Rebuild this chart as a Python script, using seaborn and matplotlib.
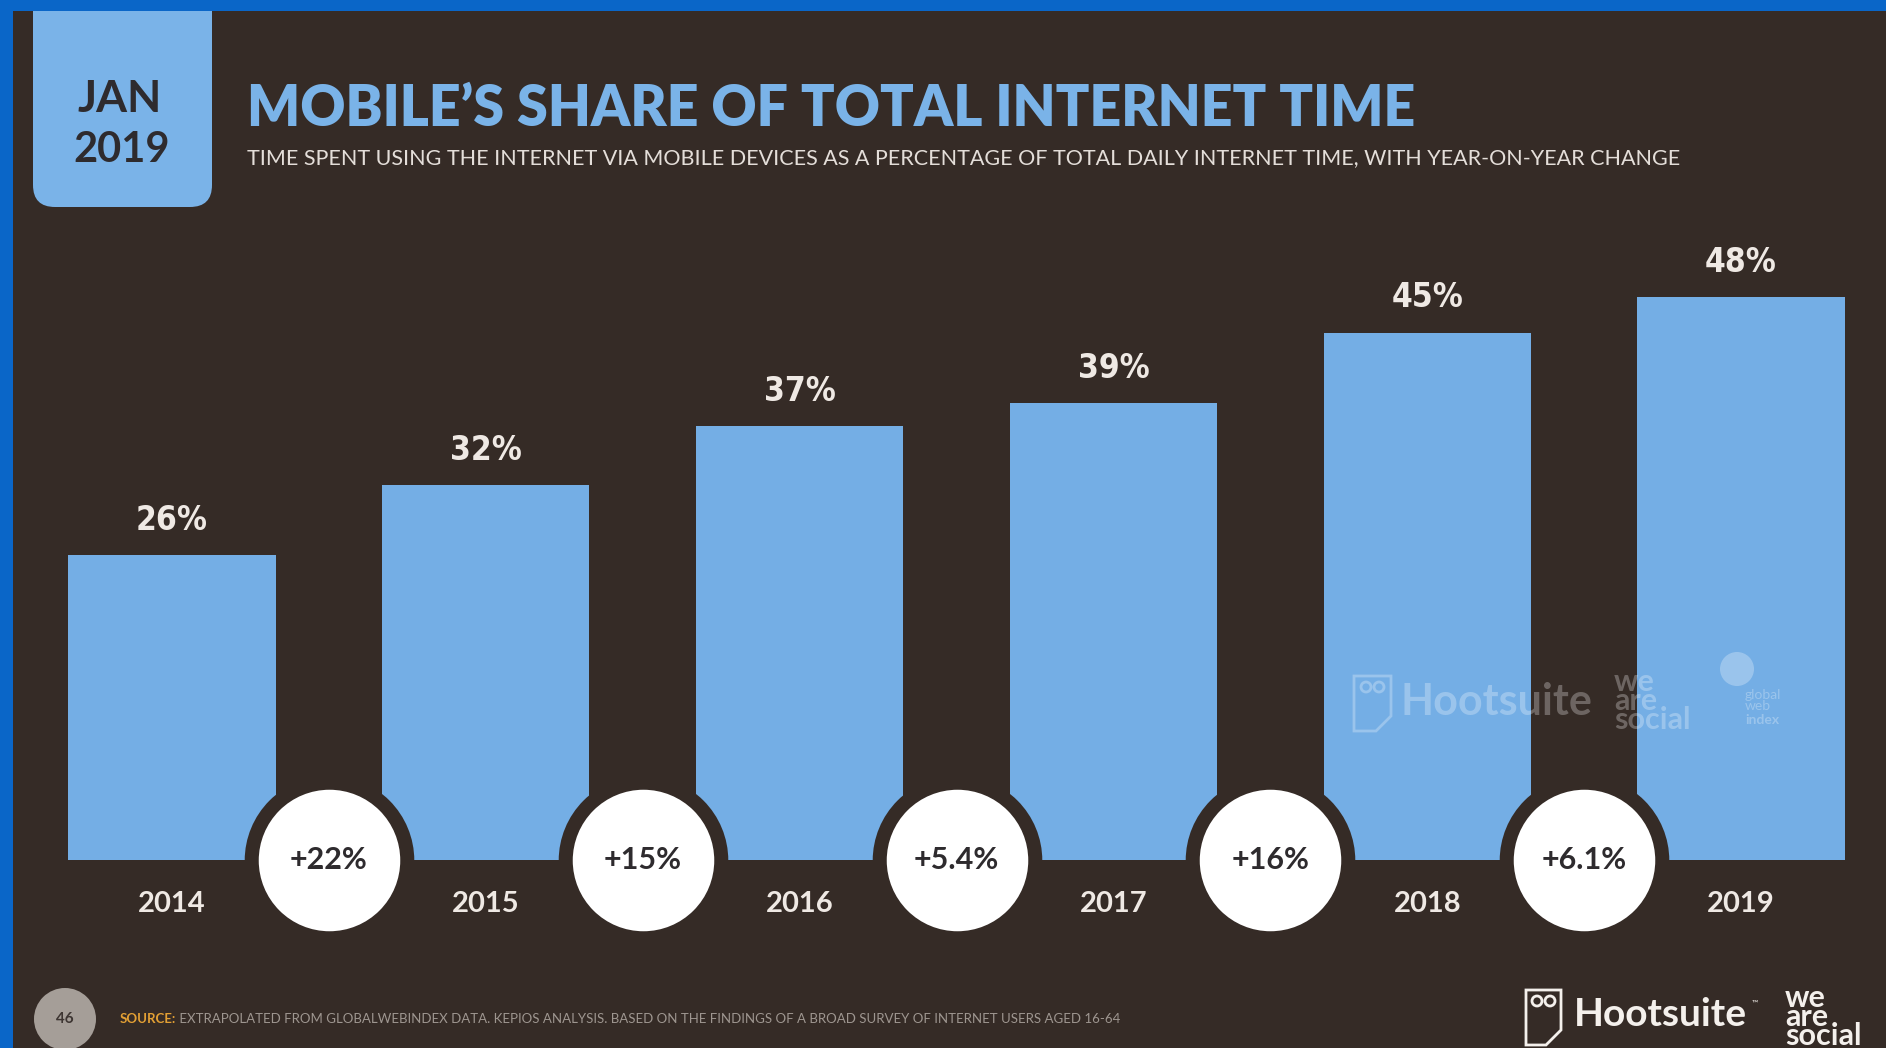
import matplotlib
matplotlib.use("Agg")
import matplotlib.pyplot as plt
import seaborn as sns
import pandas as pd
from matplotlib import font_manager
from matplotlib.font_manager import FontProperties
from matplotlib.patches import FancyBboxPatch, Rectangle, Circle, Polygon

# ---------------- data ----------------
years = ["2014", "2015", "2016", "2017", "2018", "2019"]
share = [26, 32, 37, 39, 45, 48]
value_labels = ["26%", "32%", "37%", "39%", "45%", "48%"]
change_labels = ["+22%", "+15%", "+5.4%", "+16%", "+6.1%"]

title = "MOBILE\u2019S SHARE OF TOTAL INTERNET TIME"
subtitle = ("TIME SPENT USING THE INTERNET VIA MOBILE DEVICES AS A PERCENTAGE OF "
            "TOTAL DAILY INTERNET TIME, WITH YEAR-ON-YEAR CHANGE")
source_head = "SOURCE:"
source_body = (" EXTRAPOLATED FROM GLOBALWEBINDEX DATA. KEPIOS ANALYSIS. BASED ON THE "
               "FINDINGS OF A BROAD SURVEY OF INTERNET USERS AGED 16-64")
page_no = "46"

# ---------------- style ----------------
W, H = 1886, 1048
BG = "#352b26"
BAR = "#74aee5"
FRAME = "#0a66c8"
LIGHT_BLUE = "#7ab3e8"
TXT = "#efe9e4"
DARK_TXT = "#2e2b2e"

sns.set_theme(style="white")
names = {f.name for f in font_manager.fontManager.ttflist}
MAIN = "Lato" if "Lato" in names else "DejaVu Sans"


def _weight_num(w):
    if isinstance(w, (int, float)):
        return w
    table = {"bold": 700, "heavy": 800, "black": 900, "semibold": 600,
             "demibold": 600, "extra bold": 800, "ultrabold": 800}
    return table.get(str(w).lower(), 400)


# look for any condensed / narrow bold face for the value labels
NARROW_FP = None
cands = []
for f in font_manager.fontManager.ttflist:
    fn = f.fname.lower()
    is_narrow = ("condensed" in fn or "narrow" in fn or
                 str(f.stretch).lower() in ("condensed", "semi-condensed",
                                            "extra-condensed"))
    if is_narrow and "italic" not in fn and "oblique" not in fn \
            and "mono" not in fn and "serif" not in fn.replace("sans", ""):
        cands.append((abs(_weight_num(f.weight) - 700), "extra" in fn, f.fname))
if cands:
    cands.sort()
    NARROW_FP = FontProperties(fname=cands[0][2], size=24)
else:
    NARROW_FP = FontProperties(family=MAIN, weight="bold", size=20)

plt.rcParams["font.family"] = [MAIN, "DejaVu Sans"]

df = pd.DataFrame({"year": years, "share": share})

fig = plt.figure(figsize=(W / 100, H / 100), dpi=100, facecolor=BG)

# main chart axes (pixel mapping: baseline at y=860, 11.72 px per %)
base_px = 860
px_per = 11.72
ymax = 50
ax_h = ymax * px_per
ax = fig.add_axes([0, (H - base_px) / H, 1, ax_h / H], zorder=2)
ax.set_facecolor("none")

sns.barplot(data=df, x="year", y="share", color=BAR, width=0.66,
            saturation=1, linewidth=0, edgecolor=BAR, ax=ax, zorder=2)

spacing = 313.8
c0 = 172
ax.set_xlim(-c0 / spacing, (W - c0) / spacing)
ax.set_ylim(0, ymax)
for s in ax.spines.values():
    s.set_visible(False)
ax.set_yticks([])
ax.set_xlabel("")
ax.set_ylabel("")
ax.tick_params(axis="x", length=0, pad=22, labelsize=21, labelcolor=TXT)
for lbl in ax.get_xticklabels():
    lbl.set_fontweight("bold")

# value labels above bars
for i, (v, lab) in enumerate(zip(share, value_labels)):
    ax.annotate(lab, (i, v), xytext=(0, 25), textcoords="offset points",
                ha="center", va="center", fontproperties=NARROW_FP,
                color=TXT, zorder=4)

# year-on-year change circles
mid_x = [i + 0.5 for i in range(len(change_labels))]
ax.scatter(mid_x, [0] * len(mid_x), s=112 ** 2, facecolor="white",
           edgecolor=BG, linewidth=10.1, clip_on=False, zorder=5)
for x, lab in zip(mid_x, change_labels):
    ax.text(x, 0, lab, ha="center", va="center", fontsize=22,
            fontweight="bold", color=DARK_TXT, zorder=6, clip_on=False)

# ---------------- decoration overlay (pixel coords) ----------------
ov = fig.add_axes([0, 0, 1, 1], zorder=10)
ov.set_xlim(0, W)
ov.set_ylim(H, 0)
ov.axis("off")
ov.patch.set_visible(False)

# JAN 2019 tab
ov.add_patch(FancyBboxPatch((33, -30), 179, 237,
                            boxstyle="round,pad=0,rounding_size=22",
                            facecolor=LIGHT_BLUE, edgecolor="none", zorder=1))
# blue frame
ov.add_patch(Rectangle((0, 0), W, 11, facecolor=FRAME, edgecolor="none", zorder=2))
ov.add_patch(Rectangle((0, 0), 13, H, facecolor=FRAME, edgecolor="none", zorder=2))

ov.text(120, 99, "JAN", ha="center", va="center", fontsize=32,
        fontweight="bold", color=DARK_TXT, zorder=3)
ov.text(122, 150, "2019", ha="center", va="center", fontsize=30,
        fontweight="bold", color=DARK_TXT, zorder=3)

ov.text(247, 109, title, ha="left", va="center", fontsize=40,
        fontweight="heavy", color=LIGHT_BLUE, zorder=3)
ov.text(247, 158, subtitle, ha="left", va="center", fontsize=15.5,
        color="#e4ded9", zorder=3)

# footer
ov.add_patch(Circle((65, 1019), 31, facecolor="#a59e98", edgecolor="none"))
ov.text(65, 1019, page_no, ha="center", va="center", fontsize=11,
        fontweight="bold", color="#3d3532")
src = ov.text(120, 1019, source_head, ha="left", va="center", fontsize=9.5,
              fontweight="bold", color="#e3a034")
ov.annotate(source_body, xy=(1, 0.5), xycoords=src, ha="left", va="center",
            fontsize=9.5, color="#9e9690")

# footer logo
LOGO = "#f4f0ec"
ov.add_patch(Polygon([(1526, 990), (1561, 990), (1561, 1030), (1546, 1045),
                      (1526, 1045)], closed=True, facecolor="none",
                     edgecolor=LOGO, linewidth=2))
ov.add_patch(Circle((1537, 1001), 5, facecolor="none", edgecolor=LOGO, linewidth=2))
ov.add_patch(Circle((1550, 1001), 5, facecolor="none", edgecolor=LOGO, linewidth=2))
hs = ov.text(1574, 1014, "Hootsuite", ha="left", va="center", fontsize=28,
             fontweight="bold", color=LOGO)
ov.annotate("\u2122", xy=(1, 0.7), xycoords=hs, xytext=(3, 0),
            textcoords="offset points", ha="left", va="bottom", fontsize=6,
            color=LOGO)
ov.text(1785, 1017, "we\nare\nsocial", ha="left", va="center", fontsize=22,
        fontweight="bold", color=LOGO, linespacing=0.62)

# watermark in chart
WM = (1, 1, 1, 0.28)
ov.add_patch(Polygon([(1354, 676), (1391, 676), (1391, 716), (1376, 731),
                      (1354, 731)], closed=True, facecolor="none",
                     edgecolor=WM, linewidth=2))
ov.add_patch(Circle((1366, 687), 5, facecolor="none", edgecolor=WM, linewidth=2))
ov.add_patch(Circle((1379, 687), 5, facecolor="none", edgecolor=WM, linewidth=2))
ov.text(1401, 702, "Hootsuite", ha="left", va="center", fontsize=31,
        fontweight="bold", color=WM)
ov.text(1614, 701, "we\nare\nsocial", ha="left", va="center", fontsize=22,
        fontweight="bold", color=WM, linespacing=0.62)
ov.add_patch(Circle((1737, 669), 17, facecolor=WM, edgecolor="none"))
ov.text(1745, 712, "global\nweb", ha="left", va="bottom", fontsize=10,
        color=WM, linespacing=0.9)
ov.text(1745, 714, "index", ha="left", va="top", fontsize=10,
        fontweight="bold", color=WM)

fig.savefig("out.png", dpi=100, facecolor=BG)
